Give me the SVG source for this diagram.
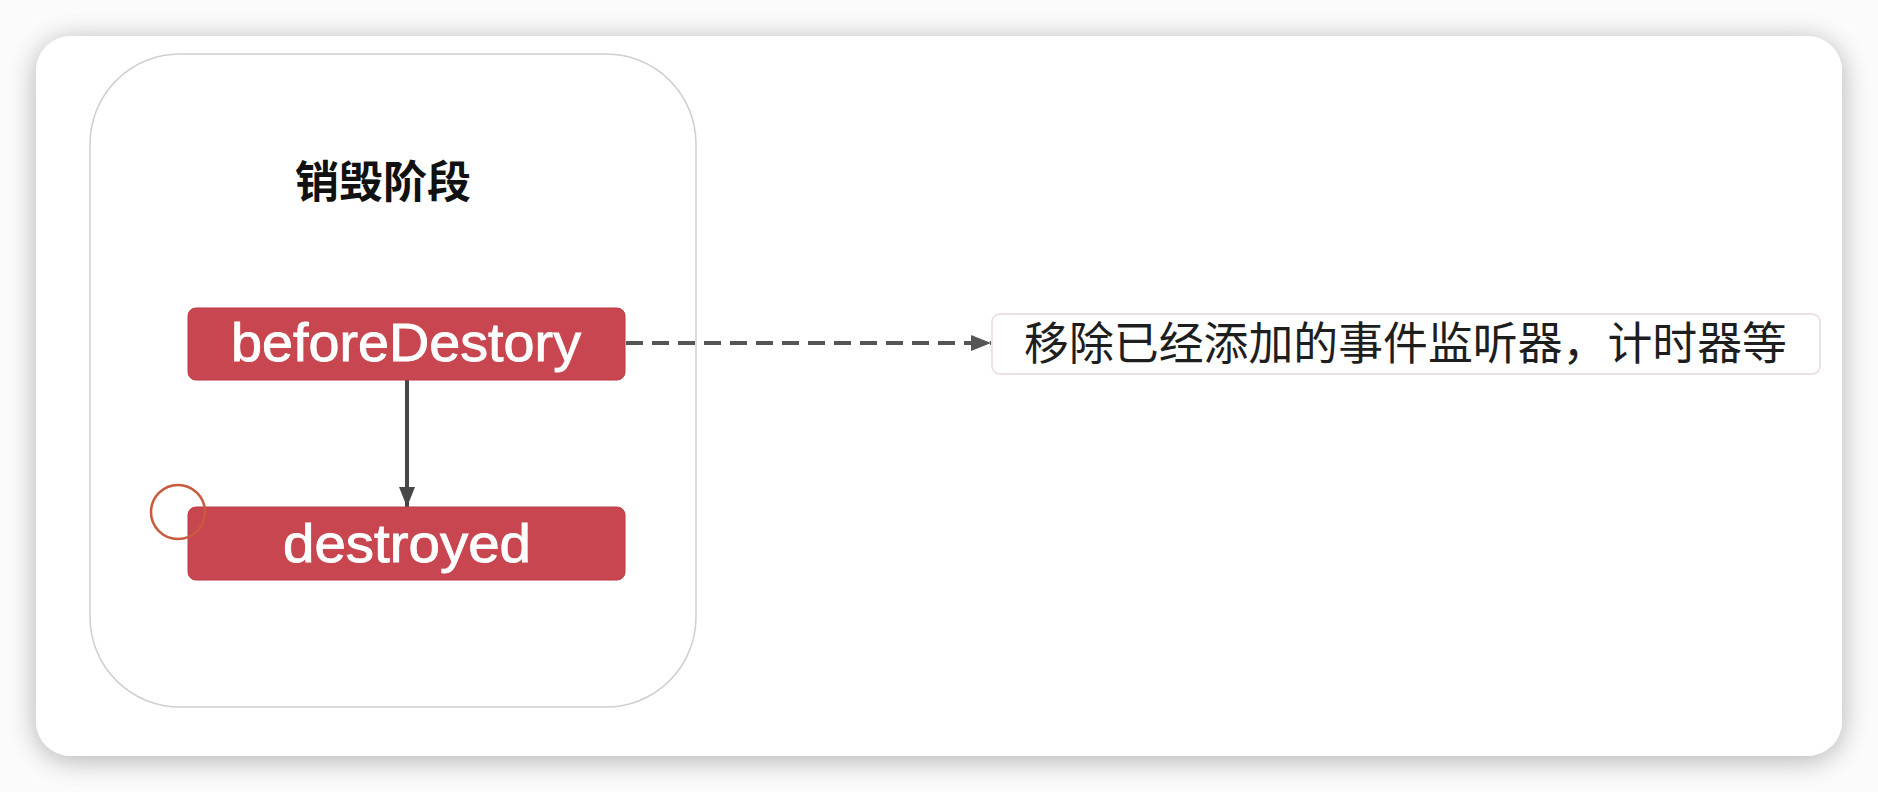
<svg xmlns="http://www.w3.org/2000/svg" width="1878" height="792" viewBox="0 0 1878 792">
  <style>
    .hook { fill: #c8464f; stroke: #b83c45; stroke-width: 1; }
    .hook-label { font-family: "Liberation Sans", Arial, sans-serif; font-size: 54px; fill: #ffffff; stroke: #ffffff; stroke-width: 0.9; text-anchor: middle; }
    .title { font-family: "Noto Sans CJK SC", "Noto Sans", sans-serif; font-size: 44px; font-weight: 700; fill: #111111; text-anchor: middle; }
    .note-text { font-family: "Noto Sans CJK SC", "Noto Sans", sans-serif; font-size: 45px; fill: #1e1e1e; }
    .edge { fill: none; stroke: #474747; stroke-width: 4; }
    .edge-dash { fill: none; stroke: #555555; stroke-width: 4; stroke-dasharray: 17 9; }
  </style>
  <defs>
    <filter id="shadow" x="-5%" y="-10%" width="110%" height="120%">
      <feGaussianBlur in="SourceAlpha" stdDeviation="14"/>
      <feOffset dx="0" dy="4" result="b"/>
      <feComponentTransfer><feFuncA type="linear" slope="0.3"/></feComponentTransfer>
      <feMerge><feMergeNode/><feMergeNode in="SourceGraphic"/></feMerge>
    </filter>
    <marker id="arrow" viewBox="0 0 20 16" refX="20" refY="8" markerWidth="20" markerHeight="16" orient="auto" markerUnits="userSpaceOnUse">
      <path d="M0,0 L20,8 L0,16 z" fill="#474747"/>
    </marker>
    <marker id="arrow-d" viewBox="0 0 20 16" refX="20" refY="8" markerWidth="20" markerHeight="16" orient="auto" markerUnits="userSpaceOnUse">
      <path d="M0,0 L20,8 L0,16 z" fill="#555555"/>
    </marker>
  </defs>

  <rect x="0" y="0" width="1878" height="792" fill="#fbfbfb"/>
  <g id="card">
    <rect x="36" y="36" width="1806" height="720" rx="35" ry="35" fill="#ffffff" filter="url(#shadow)"/>
  </g>

  <g id="stage">
    <rect x="90" y="54" width="606" height="653" rx="90" ry="90" fill="#ffffff" stroke="#cfcfcf" stroke-width="1.5"/>
    <text class="title" x="383" y="198">销毁阶段</text>
  </g>

  <g id="connectors">
    <line class="edge" x1="407" y1="380" x2="407" y2="507" marker-end="url(#arrow)"/>
    <line class="edge-dash" x1="626" y1="343" x2="991" y2="343" marker-end="url(#arrow-d)"/>
  </g>

  <g id="beforeDestory">
    <rect class="hook" x="188" y="308" width="437" height="72" rx="8" ry="8"/>
    <text class="hook-label" x="406" y="361" textLength="350" lengthAdjust="spacingAndGlyphs">beforeDestory</text>
  </g>

  <g id="destroyed">
    <rect class="hook" x="188" y="507" width="437" height="73" rx="8" ry="8"/>
    <text class="hook-label" x="407" y="562" textLength="248" lengthAdjust="spacingAndGlyphs">destroyed</text>
  </g>

  <g id="marker-circle">
    <circle cx="178" cy="512" r="27" fill="none" stroke="#c9593f" stroke-width="2.5"/>
  </g>

  <g id="note">
    <rect x="992" y="314" width="828" height="60" rx="8" ry="8" fill="#ffffff" stroke="#ead9dd" stroke-width="1.5"/>
    <text class="note-text" x="1024" y="360" textLength="763" lengthAdjust="spacingAndGlyphs">移除已经添加的事件监听器，计时器等</text>
  </g>
</svg>
